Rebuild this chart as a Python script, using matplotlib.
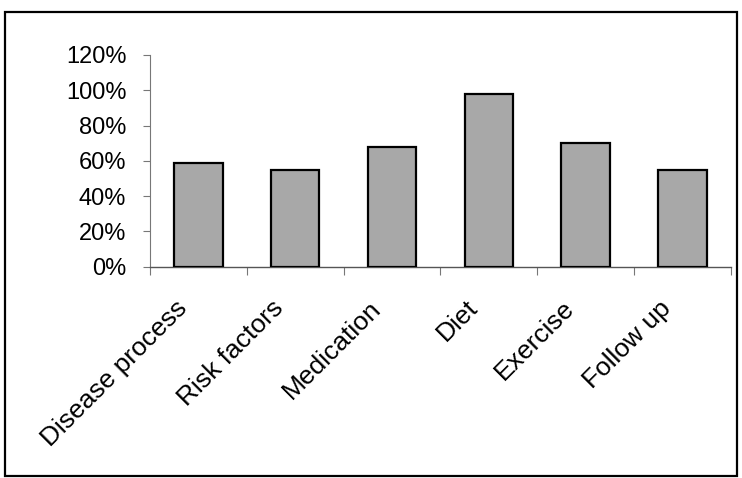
import numpy as np
import matplotlib.pyplot as plt
from matplotlib.patches import Rectangle
from matplotlib.ticker import PercentFormatter
import matplotlib.transforms as mtransforms

categories = ["Disease process", "Risk factors", "Medication", "Diet", "Exercise", "Follow up"]
values = [59, 55, 68, 98, 70, 55]
y_ticks = [0, 20, 40, 60, 80, 100, 120]

plt.rcParams['font.family'] = ['Liberation Sans', 'DejaVu Sans']

fig = plt.figure(figsize=(7.42, 4.78), dpi=100)
# outer frame round the whole chart
fig.patches.append(Rectangle((0.007, 0.004), 0.986, 0.971, transform=fig.transFigure,
                             fill=False, edgecolor='black', linewidth=1.6))

ax = fig.add_axes([0.202, 0.442, 0.783, 0.443])
x = np.arange(len(categories))
ax.bar(x, values, width=0.5, color='#a8a8a8', edgecolor='black', linewidth=1.6, zorder=3)

ax.set_xlim(-0.5, len(categories) - 0.5)
ax.set_ylim(0, 120)
ax.set_yticks(y_ticks)
ax.yaxis.set_major_formatter(PercentFormatter(decimals=0))
ax.set_xticks(x)
ax.set_xticklabels(categories, rotation=45, ha='right', va='top', rotation_mode='anchor')
ax.set_xticks(np.arange(-0.5, len(categories)), minor=True)
ax.tick_params(axis='x', which='major', length=0, pad=14, labelsize=19)
ax.tick_params(axis='x', which='minor', length=6, color='#777777', width=0.8)
ax.tick_params(axis='y', length=5, color='#777777', width=0.8, labelsize=17, pad=12)

# nudge the slanted labels left and down
offset = mtransforms.ScaledTranslation(-17 / 72, -7 / 72, fig.dpi_scale_trans)
for lab in ax.get_xticklabels():
    lab.set_transform(lab.get_transform() + offset)

for s in ['top', 'right']:
    ax.spines[s].set_visible(False)
ax.spines['left'].set_color('#777777')
ax.spines['left'].set_linewidth(0.8)
ax.spines['bottom'].set_color('#555555')
ax.spines['bottom'].set_linewidth(1.0)

plt.savefig('out.png', dpi=100)
